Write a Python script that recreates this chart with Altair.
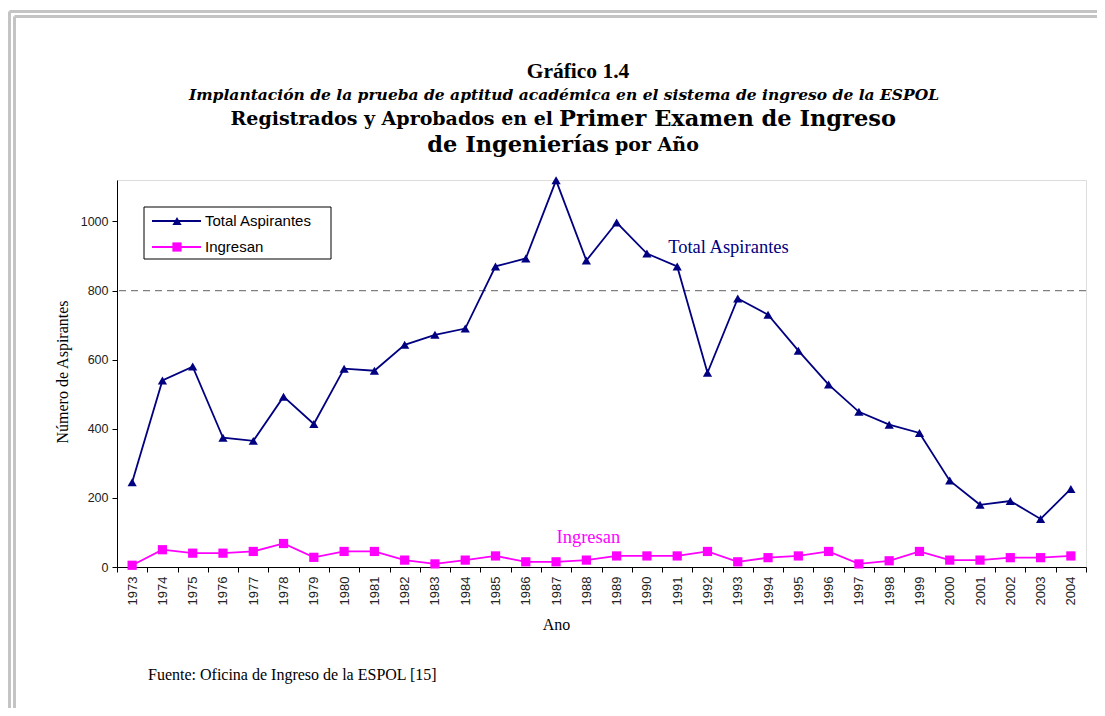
import altair as alt
import pandas as pd

years = [str(y) for y in range(1973, 2005)]
total_aspirantes = [245, 540, 580, 374, 365, 493, 414, 574, 568, 643, 672, 690,
                    870, 893, 1119, 887, 997, 907, 870, 562, 777, 730, 626, 528,
                    449, 412, 388, 250, 180, 191, 139, 226]
ingresan = [5, 50, 40, 40, 45, 68, 28, 45, 45, 20, 9, 20,
            32, 15, 15, 20, 32, 32, 32, 45, 15, 27, 32, 45,
            9, 18, 45, 20, 20, 27, 27, 32]
series_names = ["Total Aspirantes", "Ingresan"]
series_colors = ["#000080", "#FF00FF"]
series_shapes = ["triangle-up", "square"]
y_ticks = [0, 200, 400, 600, 800, 1000]
reference_lines = [800]
ann_labels = ["Total Aspirantes", "Ingresan"]
ann_years = ["1991", "1988"]
ann_values = [910, 70]

W, H = 969, 387

df = pd.DataFrame({
    "year": years * 2,
    "value": total_aspirantes + ingresan,
    "series": [series_names[0]] * len(years) + [series_names[1]] * len(years),
})

xenc = alt.X("year:O", bandPosition=0.5,
             scale=alt.Scale(type="band", domain=years, paddingInner=0, paddingOuter=0),
             axis=alt.Axis(title="Ano", labelAngle=-90, tickBand="extent", tickSize=5,
                           labelFont="Liberation Sans", labelFontSize=13, labelColor="#222222",
                           labelPadding=4, domainColor="#000000", tickColor="#000000",
                           titleFont="Liberation Serif", titleFontSize=16, titleFontWeight="normal",
                           titleX=439, titleY=57, titleBaseline="middle", titleColor="#000000"))
yenc = alt.Y("value:Q", scale=alt.Scale(domain=[0, 1120], nice=False),
             axis=alt.Axis(title="Número de Aspirantes", values=y_ticks, grid=False, tickSize=5,
                           format="d",
                           labelFont="Liberation Sans", labelFontSize=12.5, labelColor="#222222",
                           labelPadding=4, domainColor="#000000", tickColor="#000000",
                           titleFont="Liberation Serif", titleFontSize=16, titleFontWeight="normal",
                           titleX=-55, titleY=H / 2 - 2, titleBaseline="middle", titleColor="#000000"))
color = alt.Color("series:N", scale=alt.Scale(domain=series_names, range=series_colors), legend=None)
shape = alt.Shape("series:N", scale=alt.Scale(domain=series_names, range=series_shapes), legend=None)

base = alt.Chart(df)

ref = alt.Chart(pd.DataFrame({"v": reference_lines})).mark_rule(
    color="#808080", strokeDash=[7, 5], strokeWidth=1.3
).encode(y=alt.Y("v:Q", scale=alt.Scale(domain=[0, 1120], nice=False)))

lines = base.mark_line(strokeWidth=1.8).encode(x=xenc, y=yenc, color=color, detail="series:N")
points = base.mark_point(filled=True, opacity=1, size=85).encode(x=xenc, y=yenc, color=color, shape=shape)

ann_df = pd.DataFrame({"year": ann_years, "value": ann_values, "label": ann_labels})
ann1 = alt.Chart(ann_df.iloc[[0]]).mark_text(
    font="Liberation Serif", fontSize=18.5, color=series_colors[0], align="left", dx=-9, baseline="alphabetic"
).encode(x=alt.X("year:O", bandPosition=0.5), y="value:Q", text="label:N")
ann2 = alt.Chart(ann_df.iloc[[1]]).mark_text(
    font="Liberation Serif", fontSize=18.5, color=series_colors[1], align="center", dx=2, baseline="alphabetic"
).encode(x=alt.X("year:O", bandPosition=0.5), y="value:Q", text="label:N")


def txt(s, x, y, **kw):
    return alt.Chart(pd.DataFrame({"t": [s]})).mark_text(**kw).encode(
        text="t:N", x=alt.value(x), y=alt.value(y))


def rule(x, x2, y, y2, **kw):
    return alt.Chart(pd.DataFrame({"t": [0]})).mark_rule(**kw).encode(
        x=alt.value(x), x2=alt.value(x2), y=alt.value(y), y2=alt.value(y2))


border_kw = dict(color="#c4c4c4", strokeWidth=3)
borders = [
    rule(-107.5, -107.5, -168.5, 540, **border_kw),
    rule(-102.5, -102.5, -163.5, 540, **border_kw),
    rule(-107.5, 1000, -168.5, -168.5, **border_kw),
    rule(-102.5, 1000, -163.5, -163.5, **border_kw),
]

titles = [
    txt("Gráfico 1.4", 461, -108, font="Liberation Serif", fontSize=21.5, fontWeight="bold", align="center"),
    txt("Implantación de la prueba de aptitud académica en el sistema de ingreso de la ESPOL", 447, -85,
        font="DejaVu Serif", fontSize=15.5, fontWeight="bold", fontStyle="italic", align="center"),
    txt("Registrados y Aprobados  en el", 436, -61, font="DejaVu Serif", fontSize=19,
        fontWeight="bold", align="right"),
    txt("Primer Examen de Ingreso", 442, -61, font="DejaVu Serif", fontSize=22.5,
        fontWeight="bold", align="left"),
    txt("de Ingenierías", 492, -35, font="DejaVu Serif", fontSize=22.5, fontWeight="bold", align="right"),
    txt("por Año", 498, -35, font="DejaVu Serif", fontSize=19, fontWeight="bold", align="left"),
    txt("Fuente: Oficina de Ingreso de la ESPOL [15]", 31, 495, font="Liberation Serif", fontSize=16,
        align="left", color="#000000"),
]

legend_box = alt.Chart(pd.DataFrame({"t": [0]})).mark_rect(
    fill="white", stroke="#000000", strokeWidth=1
).encode(x=alt.value(27), x2=alt.value(214), y=alt.value(27), y2=alt.value(79))

legend_layers = [legend_box]
for i, name in enumerate(series_names):
    ly = 41 + 26 * i
    legend_layers.append(rule(35, 84, ly, ly, color=series_colors[i], strokeWidth=1.8))
    legend_layers.append(
        alt.Chart(pd.DataFrame({"t": [0]})).mark_point(
            filled=True, opacity=1, size=85, shape=series_shapes[i], color=series_colors[i]
        ).encode(x=alt.value(60), y=alt.value(ly)))
    legend_layers.append(txt(name, 88, ly, font="Liberation Sans", fontSize=15, align="left",
                             baseline="middle", color="#000000"))

chart = alt.layer(
    *borders, ref, lines, points, ann1, ann2, *legend_layers, *titles
).properties(
    width=W, height=H,
    autosize=alt.AutoSizeParams(type="none"),
    padding={"left": 109, "top": 172, "right": 11, "bottom": 141},
).configure_view(stroke="#808080", strokeWidth=1.5).configure(background="white")

chart.save("out.html", embed_options={"renderer": "svg", "actions": False})
